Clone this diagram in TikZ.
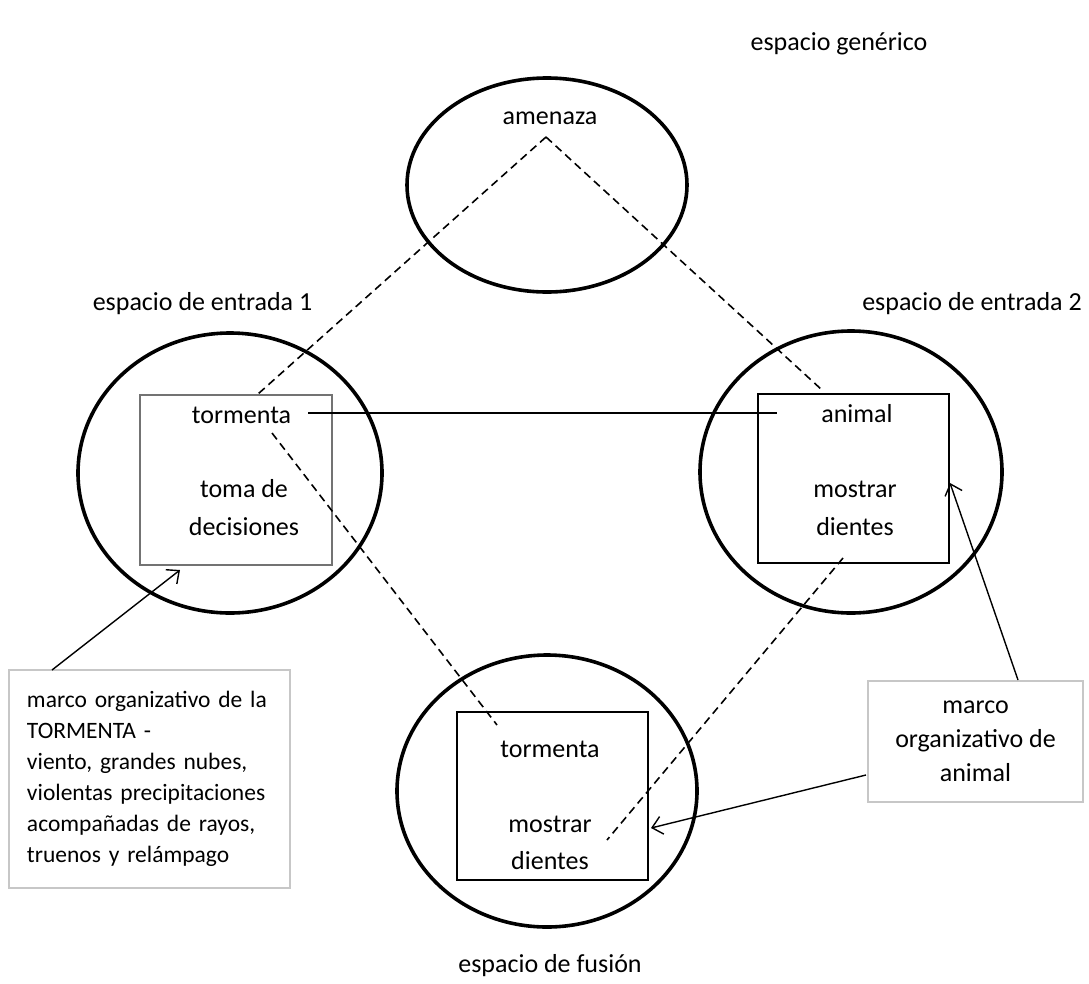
\documentclass[tikz,border=0pt]{standalone}
\usepackage{fontspec}
\setmainfont{Carlito}
\usetikzlibrary{shapes.geometric,arrows.meta}

\begin{document}
\begin{tikzpicture}[x=1pt,y=-1pt,
  space/.style={draw,ellipse,line width=3.6pt,inner sep=0pt},
  frame/.style={draw,line width=2.8pt,inner sep=0pt},
  txt/.style={font=\fontsize{26}{38}\selectfont,inner sep=0pt,align=center},
  note/.style={draw=black!22,line width=1.2pt},
  link/.style={line width=1.6pt,dash pattern=on 8pt off 5pt},
  bond/.style={line width=2.8pt},
  pointer/.style={line width=1.4pt,-{Straight Barb[length=10pt,width=18pt]}}]

  \useasboundingbox (0,0) rectangle (1089,983);

  % the four mental spaces
  \node[space,minimum width=280pt,minimum height=214pt] (gen) at (547,185) {};
  \node[space,minimum width=304pt,minimum height=280pt] (in1) at (230,473) {};
  \node[space,minimum width=302pt,minimum height=282pt] (in2) at (851,472) {};
  \node[space,minimum width=300pt,minimum height=272pt] (fus) at (547,791) {};

  % frames inside the spaces
  \node[frame,draw=black!55,line width=2.2pt,minimum width=192pt,minimum height=170pt] (box1) at (236,480) {};
  \node[frame,minimum width=191pt,minimum height=169pt] (box2) at (853.5,478.5) {};
  \node[frame,minimum width=191pt,minimum height=168pt] (box3) at (552.5,796) {};

  % space titles
  \node[txt] (tgen) at (839,44) {espacio genérico};
  \node[txt] (tin1) at (202.5,304) {espacio de entrada 1};
  \node[txt] (tin2) at (972,304) {espacio de entrada 2};
  \node[txt] (tfus) at (550,966) {espacio de fusión};

  % elements
  \node[txt] (amen) at (550,118) {amenaza};
  \node[txt] (torm1) at (241.5,415) {tormenta};
  \node[txt] (toma) at (244,508) {toma de\\decisiones};
  \node[txt] (anim) at (857,414) {animal};
  \node[txt] (most2) at (855,508) {mostrar\\dientes};
  \node[txt,font=\fontsize{26}{37}\selectfont] (torm3) at (550,749) {tormenta};
  \node[txt,font=\fontsize{26}{37}\selectfont] (most3) at (550,843) {mostrar\\dientes};

  % annotations
  \node[note,font=\fontsize{23.5}{31}\selectfont,text width=263pt,inner xsep=9pt,minimum height=218pt,align=left] (n1) at (149.5,779)
    {\hspace*{9pt}marco organizativo de la\\\hspace*{9pt}TORMENTA -\\\hspace*{9pt}viento, grandes nubes,\\\hspace*{9pt}violentas precipitaciones\\\hspace*{9pt}acompañadas de rayos,\\\hspace*{9pt}truenos y relámpago};
  \node[note,minimum width=215pt,minimum height=121pt,align=center,font=\fontsize{26}{34}\selectfont] (n2) at (975.5,741.5)
    {marco\\organizativo de\\animal};

  % connector end points
  \coordinate (gA) at (546,137);
  \coordinate (b1top) at (258,394);
  \coordinate (b2top) at (822,390);
  \coordinate (t1low) at (272,433);
  \coordinate (b3in) at (497,725);
  \coordinate (d2low) at (843,558);
  \coordinate (d3in) at (607,840);
  \coordinate (s1) at (308,413);
  \coordinate (s2) at (777,413);
  \coordinate (n1tip) at (52,670);
  \coordinate (b1hit) at (180,570);
  \coordinate (n2top) at (1018,680);
  \coordinate (b2hit) at (950,483);
  \coordinate (n2left) at (866,775);
  \coordinate (b3hit) at (651,828);

  % cross-space mappings
  \draw[link] (gA) -- (b1top);
  \draw[link] (gA) -- (b2top);
  \draw[link] (t1low) -- (b3in);
  \draw[link] (d2low) -- (d3in);
  \draw[bond] (s1) -- (s2);

  % annotation pointers
  \draw[pointer] (n1tip) -- (b1hit);
  \draw[pointer] (n2top) -- (b2hit);
  \draw[pointer] (n2left) -- (b3hit);
\end{tikzpicture}
\end{document}
